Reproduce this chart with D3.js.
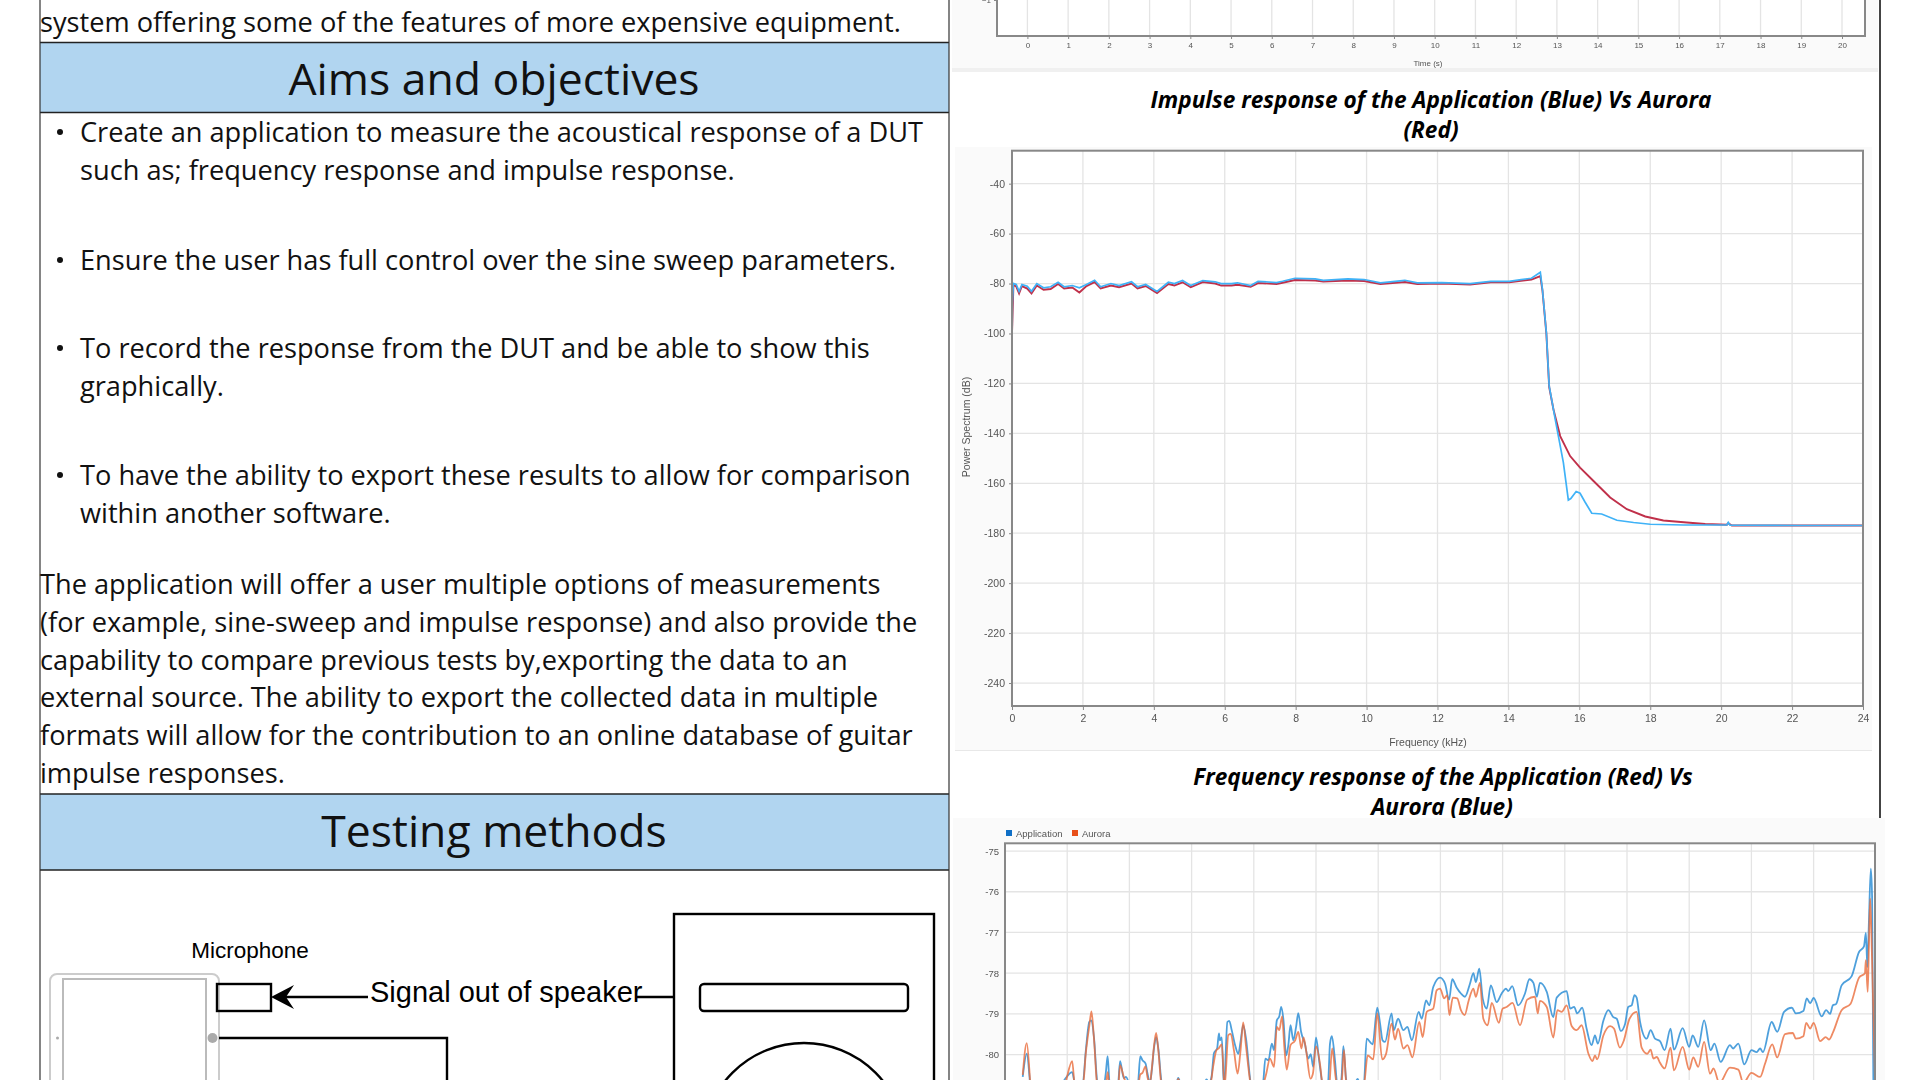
<!DOCTYPE html>
<html>
<head>
<meta charset="utf-8">
<script src="https://cdn.jsdelivr.net/npm/d3@7"></script>
<style>
  html, body { margin: 0; background: #fff; }
  svg { display: block; }
  .body-text { font-family: "Open Sans"; font-size: 27.2px; fill: #111; }
  .band-text { font-family: "Open Sans"; font-size: 44.5px; fill: #111; text-anchor: middle; }
  .chart-title { font-family: "Open Sans"; font-size: 22.6px; font-weight: 700; font-style: italic; fill: #000; text-anchor: middle; }
  .diagram-text { font-family: "Liberation Sans"; fill: #000; }
  .axis text, .axis-label { font-family: "Liberation Sans"; fill: #555; }
  .axis .domain, .axis line { stroke: #888; }
  .panel { filter: blur(0.45px); }
</style>
</head>
<body>
<div id="chart"></div>
<script>
// Text
const introLine = "system offering some of the features of more expensive equipment.";
const aimsBullets = [
  ["Create an application to measure the acoustical response of a DUT", 142],
  ["such as; frequency response and impulse response.", 180],
  ["Ensure the user has full control over the sine sweep parameters.", 270],
  ["To record the response from the DUT and be able to show this", 358],
  ["graphically.", 396],
  ["To have the ability to export these results to allow for comparison", 485],
  ["within another software.", 523]
];
const bulletRows = [132, 260, 348, 475];
const aimsParagraph = [
  "The application will offer a user multiple options of measurements",
  "(for example, sine-sweep and impulse response) and also provide the",
  "capability to compare previous tests by,exporting the data to an",
  "external source. The ability to export the collected data in multiple",
  "formats will allow for the contribution to an online database of guitar",
  "impulse responses."
];

// Top chart, only its bottom edge is in frame
const timeTicks = d3.range(0, 21);

// Impulse response chart: [kHz, dB]
const impulseFreqTicks = d3.range(0, 25, 2);
const impulseDbTicks = [-40, -60, -80, -100, -120, -140, -160, -180, -200, -220, -240];
const appImpulse = [
  [0, -107.7], [.01, -87.7], [.04, -80], [.12, -80.4], [.2, -83.1], [.28, -80.4], [.43, -81.1], [.55, -83.1],
  [.7, -80], [.89, -81.7], [1.09, -81.3], [1.3, -79.5], [1.47, -81.3], [1.7, -80.8], [1.9, -81.7], [2.1, -80.4],
  [2.33, -78.7], [2.5, -81.3], [2.79, -80], [3.02, -80.8], [3.37, -79.3], [3.54, -81.3], [3.77, -80.4], [4.09, -83.2],
  [4.41, -79.5], [4.58, -80], [4.81, -78.8], [5.04, -80.8], [5.38, -78.8], [5.73, -79.3], [5.9, -80], [6.19, -80],
  [6.36, -79.7], [6.73, -80.8], [6.94, -79.1], [7.46, -79.6], [7.63, -79.1], [7.98, -77.9], [8.55, -78.1], [8.78, -78.7],
  [9.47, -78.1], [9.93, -78.4], [10.39, -79.7], [11.08, -78.7], [11.43, -79.7], [12.12, -79.6], [12.92, -80], [13.5, -79.1],
  [14.02, -79.1], [14.65, -77.9], [14.9, -75.5], [14.96, -82.4], [15.07, -99.7], [15.15, -121], [15.32, -134.4], [15.55, -151.7],
  [15.69, -166.7], [15.76, -166.1], [15.91, -163.3], [16.02, -164], [16.16, -167.5], [16.35, -172], [16.63, -172.3], [17.06, -174.8],
  [17.53, -175.7], [18, -176.4], [18.94, -176.7], [20.16, -176.7], [20.2, -175.7], [20.25, -176.8], [22.23, -176.9], [24, -176.9]
];
const auroraImpulse = [
  [0, -100], [.04, -80.6], [.12, -81.2], [.2, -84], [.28, -81], [.43, -82], [.55, -84], [.7, -80.8],
  [.89, -82.5], [1.09, -82.2], [1.3, -80.2], [1.47, -82], [1.7, -81.6], [1.9, -83.6], [2.1, -81], [2.33, -79.4],
  [2.5, -82], [2.79, -80.8], [3.02, -81.5], [3.37, -80], [3.54, -82], [3.77, -81], [4.09, -83.8], [4.41, -80.2],
  [4.58, -80.8], [4.81, -79.5], [5.04, -81.5], [5.38, -79.4], [5.73, -80], [5.9, -80.8], [6.19, -80.8], [6.36, -80.5],
  [6.73, -81.3], [6.94, -79.8], [7.46, -80.2], [7.63, -79.7], [7.98, -78.6], [8.55, -78.8], [8.78, -79.2], [9.47, -78.8],
  [9.93, -79], [10.39, -80.2], [11.08, -79.4], [11.43, -80.2], [12.12, -80], [12.92, -80.4], [13.5, -79.5], [14.02, -79.5],
  [14.65, -78.4], [14.9, -77], [14.96, -82.8], [15.07, -100], [15.15, -121.5], [15.27, -130.4], [15.46, -141.1], [15.74, -149.1],
  [16.02, -153.7], [16.4, -159.1], [16.87, -165.7], [17.34, -170.4], [17.86, -173.3], [18.37, -174.9], [19.03, -175.7], [19.55, -176.3],
  [20.16, -176.6], [20.2, -176], [20.3, -176.9], [22.23, -176.9], [24, -176.9]
];

// Frequency response chart: [position in grid steps, dB]. Its x labels are below the frame.
const respDbTicks = [-75, -76, -77, -78, -79, -80];
const respGridSteps = d3.range(1, 14);
const respLegend = ["Application", "Aurora"];
const appResponse = [
  [.285, -80.55], [.35, -79.98], [.43, -81], [.72, -81.2], [.965, -80.6], [1.08, -80.43], [1.125, -80.7], [1.25, -80.7],
  [1.3, -79.89], [1.355, -79.2], [1.39, -79.16], [1.43, -79.57], [1.485, -80.7], [1.56, -81], [1.62, -80.46], [1.65, -80.04],
  [1.68, -80.7], [1.74, -81], [1.82, -80.7], [1.85, -80.16], [1.91, -80.58], [1.945, -80.55], [2.01, -80.8], [2.09, -81],
  [2.14, -80.7], [2.175, -80.04], [2.21, -80.14], [2.26, -80.22], [2.29, -80.46], [2.33, -80.7], [2.36, -80.39], [2.395, -79.85],
  [2.43, -79.57], [2.465, -79.85], [2.52, -80.7], [2.65, -81], [2.75, -80.75], [2.785, -80.57], [2.83, -80.75], [2.975, -81],
  [3.18, -80.8], [3.24, -80.61], [3.28, -80.7], [3.32, -80.55], [3.36, -79.96], [3.41, -79.85], [3.44, -79.48], [3.455, -79.65],
  [3.485, -79.58], [3.52, -80.8], [3.575, -79.2], [3.605, -79.17], [3.645, -79.4], [3.7, -79.77], [3.75, -79.98], [3.79, -79.65],
  [3.83, -79.28], [3.875, -79.61], [3.95, -80.7], [4.05, -81.1], [4.15, -80.7], [4.185, -80.1], [4.235, -80.14], [4.29, -79.73],
  [4.325, -79.89], [4.37, -79.16], [4.41, -79.06], [4.44, -78.83], [4.475, -79.12], [4.52, -80.02], [4.555, -79.77], [4.59, -79.28],
  [4.635, -79.65], [4.68, -79.32], [4.715, -78.98], [4.76, -79.44], [4.82, -79.73], [4.875, -80.1], [4.915, -79.99], [4.955, -80.3],
  [5, -79.58], [5.05, -80.14], [5.1, -80.7], [5.145, -81], [5.195, -80.7], [5.225, -79.73], [5.255, -79.55], [5.305, -80.14],
  [5.34, -80.7], [5.385, -80.75], [5.41, -80.58], [5.44, -79.79], [5.48, -80.55], [5.545, -81], [5.63, -80.7], [5.67, -80.6],
  [5.71, -80.75], [5.77, -80.7], [5.815, -79.61], [5.91, -79.75], [5.985, -78.85], [6.03, -79.24], [6.07, -79.65], [6.11, -79.69],
  [6.215, -78.99], [6.25, -79.4], [6.32, -79.12], [6.405, -79.4], [6.47, -79.32], [6.54, -79.65], [6.65, -78.95], [6.7, -79.12],
  [6.77, -78.67], [6.82, -78.79], [6.885, -78.34], [6.995, -78.11], [7.075, -78.26], [7.14, -78.65], [7.19, -78.15], [7.26, -78.35],
  [7.33, -78.5], [7.395, -78.58], [7.475, -78.26], [7.53, -78], [7.57, -78.22], [7.625, -77.89], [7.68, -78.62], [7.745, -78.87],
  [7.81, -78.3], [7.905, -78.71], [7.985, -78.5], [8.055, -78.38], [8.09, -78.44], [8.155, -78.32], [8.25, -78.79], [8.36, -78.5],
  [8.43, -78.15], [8.495, -78.24], [8.55, -78.58], [8.6, -78.24], [8.71, -78.46], [8.815, -79.08], [8.87, -78.6], [9.03, -78.44],
  [9.085, -78.87], [9.15, -78.83], [9.2, -78.99], [9.28, -78.85], [9.35, -79.36], [9.43, -79.77], [9.485, -79.53], [9.53, -79.73],
  [9.62, -79.17], [9.7, -78.91], [9.78, -79.08], [9.835, -79.12], [9.9, -79.42], [9.97, -79.24], [10.02, -78.83], [10.075, -78.79],
  [10.12, -78.54], [10.155, -78.6], [10.21, -79.2], [10.315, -79.61], [10.38, -79.4], [10.45, -79.61], [10.53, -79.67], [10.605, -79.89],
  [10.7, -79.36], [10.755, -79.88], [10.895, -79.35], [11, -79.81], [11.055, -79.53], [11.145, -79.81], [11.24, -79.16], [11.345, -79.89],
  [11.405, -79.73], [11.505, -80.18], [11.655, -79.77], [11.705, -79.85], [11.79, -79.73], [11.885, -80.24], [12, -79.89], [12.085, -79.94],
  [12.14, -79.85], [12.185, -79.94], [12.325, -79.2], [12.415, -79.44], [12.525, -78.95], [12.65, -78.85], [12.715, -78.99], [12.835, -78.93],
  [12.89, -78.62], [12.945, -78.74], [13, -78.61], [13.13, -79.06], [13.2, -78.91], [13.265, -79], [13.31, -78.79], [13.36, -78.76],
  [13.45, -78.3], [13.61, -78.08], [13.73, -77.48], [13.81, -77.34], [13.84, -77.01], [13.865, -77.85], [13.89, -76.7], [13.92, -75.43],
  [13.94, -76.1], [13.96, -80.55], [13.99, -82]
];
const auroraResponse = [
  [.285, -80.5], [.35, -79.72], [.43, -81], [.72, -81.3], [.97, -80.7], [1.08, -80.16], [1.125, -80.8], [1.25, -80.8],
  [1.3, -79.95], [1.355, -79.3], [1.39, -78.94], [1.43, -79.6], [1.485, -80.8], [1.56, -81], [1.62, -80.8], [1.65, -80.43],
  [1.68, -80.8], [1.74, -81], [1.82, -80.8], [1.85, -80.26], [1.91, -80.55], [1.945, -80.7], [2.01, -80.9], [2.09, -81],
  [2.14, -80.8], [2.175, -80.49], [2.21, -80.45], [2.26, -80.29], [2.29, -80.55], [2.33, -80.7], [2.36, -80.35], [2.395, -79.8],
  [2.43, -79.47], [2.465, -79.9], [2.52, -80.8], [2.65, -81.1], [2.75, -80.8], [2.785, -80.6], [2.83, -80.8], [2.975, -81.1],
  [3.18, -80.9], [3.3, -80.75], [3.35, -80.26], [3.4, -79.89], [3.44, -79.84], [3.455, -79.8], [3.485, -79.75], [3.53, -80.8],
  [3.59, -79.52], [3.63, -79.49], [3.68, -79.89], [3.74, -80.47], [3.785, -79.93], [3.83, -79.21], [3.875, -79.8], [3.945, -80.7],
  [4.05, -81.2], [4.16, -80.7], [4.2, -80.47], [4.26, -80.1], [4.325, -80.3], [4.37, -79.32], [4.41, -79.4], [4.455, -79.06],
  [4.49, -79.8], [4.53, -80.37], [4.59, -79.77], [4.665, -79.65], [4.715, -79.44], [4.765, -79.85], [4.8, -79.58], [4.845, -79.94],
  [4.91, -80.59], [4.95, -80.47], [5, -79.8], [5.07, -80.3], [5.1, -80.7], [5.2, -81], [5.26, -79.85], [5.315, -80.55],
  [5.34, -80.8], [5.41, -80.7], [5.45, -79.89], [5.48, -80.6], [5.545, -81.1], [5.63, -80.8], [5.67, -80.65], [5.71, -80.8],
  [5.77, -80.75], [5.83, -80.02], [5.92, -80.12], [5.985, -78.99], [6.065, -80.12], [6.125, -79.99], [6.215, -79.24], [6.27, -79.63],
  [6.32, -79.36], [6.405, -79.85], [6.47, -79.77], [6.55, -80.07], [6.66, -79.2], [6.715, -79.57], [6.78, -78.95], [6.885, -78.87],
  [6.94, -78.42], [6.995, -78.38], [7.06, -78.62], [7.11, -78.54], [7.145, -79.03], [7.2, -78.6], [7.27, -78.62], [7.33, -78.91],
  [7.39, -79.03], [7.455, -78.67], [7.53, -78.38], [7.57, -78.58], [7.635, -78.24], [7.69, -79.12], [7.76, -79.28], [7.825, -78.73],
  [7.94, -79.22], [8, -78.87], [8.065, -78.83], [8.16, -78.73], [8.28, -79.28], [8.395, -78.65], [8.52, -78.58], [8.565, -78.99],
  [8.6, -78.68], [8.71, -78.83], [8.815, -79.58], [8.88, -78.91], [8.95, -78.95], [9.03, -78.79], [9.11, -79.3], [9.19, -79.4],
  [9.27, -79.28], [9.38, -79.98], [9.445, -80.16], [9.485, -80.02], [9.52, -80.12], [9.62, -79.53], [9.73, -79.3], [9.79, -79.36],
  [9.885, -79.83], [9.95, -79.65], [10.04, -79.12], [10.155, -78.95], [10.235, -79.83], [10.325, -79.98], [10.38, -79.88], [10.425, -80.1],
  [10.48, -80.06], [10.53, -80.2], [10.605, -80.34], [10.7, -79.83], [10.755, -80.39], [10.895, -79.81], [11, -80.37], [11.065, -80.07],
  [11.145, -80.3], [11.24, -79.69], [11.335, -80.47], [11.39, -80.34], [11.485, -80.7], [11.655, -80.32], [11.79, -80.37], [11.87, -80.7],
  [12, -80.45], [12.14, -80.55], [12.22, -80.22], [12.335, -79.75], [12.415, -80.07], [12.54, -79.5], [12.665, -79.47], [12.715, -79.61],
  [12.835, -79.55], [12.88, -79.22], [12.945, -79.36], [13, -79.22], [13.105, -79.67], [13.195, -79.57], [13.25, -79.63], [13.315, -79.44],
  [13.45, -78.91], [13.595, -78.75], [13.73, -78.11], [13.825, -78], [13.84, -77.68], [13.87, -78.46], [13.89, -77.25], [13.91, -76.17],
  [13.94, -77.68], [13.985, -80.55]
];

const svg = d3.select("#chart").append("svg").attr("width", 1920).attr("height", 1080);

// Left column
const col = { left: 40, right: 949 };

svg.append("rect").attr("x", col.left).attr("y", 43).attr("width", col.right - col.left).attr("height", 70)
  .attr("fill", "#b1d5f0");
svg.append("rect").attr("x", col.left).attr("y", 794).attr("width", col.right - col.left).attr("height", 76)
  .attr("fill", "#b1d5f0");

[42.5, 112.5, 794, 870].forEach((y) => {
  svg.append("line").attr("x1", col.left).attr("x2", col.right).attr("y1", y).attr("y2", y)
    .attr("stroke", "#222").attr("stroke-width", 1.4);
});
[col.left, col.right].forEach((x) => {
  svg.append("line").attr("x1", x).attr("x2", x).attr("y1", 0).attr("y2", 1080)
    .attr("stroke", "#333").attr("stroke-width", 1.2);
});

svg.append("text").attr("class", "body-text").attr("x", 40).attr("y", 32).text(introLine);
svg.append("text").attr("class", "band-text").attr("x", 494).attr("y", 95).text("Aims and objectives");
svg.append("text").attr("class", "band-text").attr("x", 494).attr("y", 847).text("Testing methods");

svg.selectAll(".bullet-line").data(aimsBullets).join("text")
  .attr("class", "body-text bullet-line")
  .attr("x", 80)
  .attr("y", (d) => d[1])
  .text((d) => d[0]);

svg.selectAll(".bullet-dot").data(bulletRows).join("circle")
  .attr("class", "bullet-dot")
  .attr("cx", 60)
  .attr("cy", (d) => d)
  .attr("r", 3)
  .attr("fill", "#111");

svg.selectAll(".para-line").data(aimsParagraph).join("text")
  .attr("class", "body-text para-line")
  .attr("x", 40)
  .attr("y", (d, i) => 594 + i * 37.8)
  .text((d) => d);

// Test set-up diagram
const diagram = svg.append("g").attr("fill", "none").attr("stroke", "#000").attr("stroke-width", 2.4);
diagram.append("rect").attr("x", 50).attr("y", 974).attr("width", 169).attr("height", 140).attr("rx", 7)
  .attr("stroke", "#ccc").attr("stroke-width", 2);
diagram.append("rect").attr("x", 63).attr("y", 979).attr("width", 143).attr("height", 140)
  .attr("stroke", "#bbb").attr("stroke-width", 2);
diagram.append("circle").attr("cx", 57.5).attr("cy", 1038).attr("r", 1.5).attr("fill", "#aaa").attr("stroke", "none");
diagram.append("circle").attr("cx", 212.5).attr("cy", 1038).attr("r", 5).attr("fill", "#aaa").attr("stroke", "none");
diagram.append("rect").attr("x", 217).attr("y", 984).attr("width", 54).attr("height", 27);
diagram.append("line").attr("x1", 283).attr("x2", 368).attr("y1", 997).attr("y2", 997);
diagram.append("path").attr("d", "M271,997 L294,985 L286,997 L294,1009 Z").attr("fill", "#000").attr("stroke", "none");
diagram.append("line").attr("x1", 637).attr("x2", 674).attr("y1", 997).attr("y2", 997);
diagram.append("path").attr("d", "M219,1038 H447 V1085");
diagram.append("rect").attr("x", 674).attr("y", 914).attr("width", 260).attr("height", 200);
diagram.append("rect").attr("x", 700).attr("y", 984).attr("width", 208).attr("height", 27).attr("rx", 4);
diagram.append("circle").attr("cx", 804).attr("cy", 1144).attr("r", 101);

svg.append("text").attr("class", "diagram-text").attr("x", 250).attr("y", 958)
  .attr("text-anchor", "middle").attr("font-size", 22.5).text("Microphone");
svg.append("text").attr("class", "diagram-text").attr("x", 370).attr("y", 1002)
  .attr("font-size", 29).text("Signal out of speaker");

// Right column panels
function panel(x, y, w, h) {
  svg.append("rect").attr("x", x).attr("y", y).attr("width", w).attr("height", h).attr("fill", "#fafafa");
}

svg.append("line").attr("x1", 1880).attr("x2", 1880).attr("y1", 0).attr("y2", 818)
  .attr("stroke", "#444").attr("stroke-width", 2);

svg.append("text").attr("class", "chart-title").attr("x", 1431).attr("y", 108)
  .text("Impulse response of the Application (Blue) Vs Aurora");
svg.append("text").attr("class", "chart-title").attr("x", 1431).attr("y", 138).text("(Red)");
svg.append("text").attr("class", "chart-title").attr("x", 1443).attr("y", 785)
  .text("Frequency response of the Application (Red) Vs");
svg.append("text").attr("class", "chart-title").attr("x", 1442).attr("y", 815).text("Aurora (Blue)");

// Draws frame and grid for one plot, returns the group to put its lines in
function plotArea(name, box, x, y, xTicks, yTicks) {
  const g = svg.append("g").attr("class", "panel");
  g.append("clipPath").attr("id", name + "-clip").append("rect")
    .attr("x", box.left).attr("y", box.top).attr("width", box.right - box.left).attr("height", box.bottom - box.top);
  g.append("rect").attr("x", box.left).attr("y", box.top)
    .attr("width", box.right - box.left).attr("height", box.bottom - box.top).attr("fill", "#fff");
  g.selectAll(".grid-x").data(xTicks).join("line")
    .attr("x1", (d) => x(d)).attr("x2", (d) => x(d))
    .attr("y1", box.top).attr("y2", box.bottom)
    .attr("stroke", "#e4e4e4").attr("stroke-width", 1.3);
  g.selectAll(".grid-y").data(yTicks).join("line")
    .attr("x1", box.left).attr("x2", box.right)
    .attr("y1", (d) => y(d)).attr("y2", (d) => y(d))
    .attr("stroke", "#e4e4e4").attr("stroke-width", 1.3);
  return g;
}

function frame(g, box) {
  g.append("rect").attr("x", box.left).attr("y", box.top)
    .attr("width", box.right - box.left).attr("height", box.bottom - box.top)
    .attr("fill", "none").attr("stroke", "#888").attr("stroke-width", 2);
}

// Top chart
panel(952, 0, 926, 68);
svg.append("rect").attr("x", 952).attr("y", 68).attr("width", 926).attr("height", 4).attr("fill", "#f0f0f0");
const topBox = { left: 997, right: 1865, top: -5, bottom: 36 };
const topX = d3.scaleLinear().domain([0, 20]).range([1027.4, 1842]);
const topY = d3.scaleLinear().domain([-1.36, -1]).range([36, 0]);
const topG = plotArea("top", topBox, topX, topY, timeTicks, []);
frame(topG, topBox);
topG.append("g").attr("class", "axis").attr("transform", "translate(0,36)")
  .call(d3.axisBottom(topX).tickValues(timeTicks).tickFormat(d3.format("d")).tickSize(3).tickSizeOuter(0))
  .call((a) => a.select(".domain").remove())
  .call((a) => a.selectAll("text").attr("font-size", 8));
topG.append("g").attr("class", "axis").attr("transform", "translate(997,0)")
  .call(d3.axisLeft(topY).tickValues([-1]).tickFormat(d3.format("d")).tickSize(3))
  .call((a) => a.select(".domain").remove())
  .call((a) => a.selectAll("text").attr("font-size", 8));
topG.append("text").attr("class", "axis-label").attr("x", 1428).attr("y", 66)
  .attr("text-anchor", "middle").attr("font-size", 8).text("Time (s)");

// Impulse response chart
panel(955, 147, 917, 603);
svg.append("rect").attr("x", 955).attr("y", 750).attr("width", 917).attr("height", 1).attr("fill", "#e8e8e8");
const impBox = { left: 1012, right: 1863, top: 150.7, bottom: 706 };
const impX = d3.scaleLinear().domain([0, 24]).range([impBox.left, impBox.right]);
const impY = d3.scaleLinear().domain([-249.2, -26.8]).range([impBox.bottom, impBox.top]);
const impG = plotArea("imp", impBox, impX, impY, impulseFreqTicks, impulseDbTicks);
const impLine = d3.line().x((d) => impX(d[0])).y((d) => impY(d[1]));

impG.append("path").datum(auroraImpulse).attr("d", impLine)
  .attr("clip-path", "url(#imp-clip)").attr("fill", "none").attr("stroke", "#c0304a").attr("stroke-width", 1.9);
impG.append("path").datum(appImpulse).attr("d", impLine)
  .attr("clip-path", "url(#imp-clip)").attr("fill", "none").attr("stroke", "#3fb2f7").attr("stroke-width", 1.7);
frame(impG, impBox);

impG.append("g").attr("class", "axis").attr("transform", `translate(0,${impBox.bottom})`)
  .call(d3.axisBottom(impX).tickValues(impulseFreqTicks).tickFormat(d3.format("d")).tickSize(4).tickPadding(5))
  .call((a) => a.select(".domain").remove())
  .call((a) => a.selectAll("text").attr("font-size", 10.5));
impG.append("g").attr("class", "axis").attr("transform", `translate(${impBox.left},0)`)
  .call(d3.axisLeft(impY).tickValues(impulseDbTicks).tickFormat((d) => String(d)).tickSize(3).tickPadding(4))
  .call((a) => a.select(".domain").remove())
  .call((a) => a.selectAll("text").attr("font-size", 10.5));
impG.append("text").attr("class", "axis-label").attr("x", 1428).attr("y", 746)
  .attr("text-anchor", "middle").attr("font-size", 10.5).text("Frequency (kHz)");
impG.append("text").attr("class", "axis-label").attr("transform", "translate(970,427) rotate(-90)")
  .attr("text-anchor", "middle").attr("font-size", 10.5).text("Power Spectrum (dB)");

// Frequency response chart
panel(953, 818, 932, 262);
const respBox = { left: 1005, right: 1875, top: 843.3, bottom: 1136 };
const respX = d3.scaleLinear().domain([0, 13.987]).range([respBox.left, respBox.right]);
const respY = d3.scaleLinear().domain([-82, -74.81]).range([respBox.bottom, respBox.top]);
const respG = plotArea("resp", respBox, respX, respY, respGridSteps, respDbTicks);
const respLine = d3.line().x((d) => respX(d[0])).y((d) => respY(d[1])).curve(d3.curveMonotoneX);

respG.append("path").datum(appResponse).attr("d", respLine)
  .attr("clip-path", "url(#resp-clip)").attr("fill", "none").attr("stroke", "#2f8fd6")
  .attr("stroke-width", 1.8).attr("stroke-opacity", 0.85);
respG.append("path").datum(auroraResponse).attr("d", respLine)
  .attr("clip-path", "url(#resp-clip)").attr("fill", "none").attr("stroke", "#ea6d3c")
  .attr("stroke-width", 1.8).attr("stroke-opacity", 0.8);
frame(respG, respBox);

respG.append("g").attr("class", "axis").attr("transform", `translate(${respBox.left},0)`)
  .call(d3.axisLeft(respY).tickValues(respDbTicks).tickFormat((d) => String(d)).tickSize(0).tickPadding(6))
  .call((a) => a.select(".domain").remove())
  .call((a) => a.selectAll("text").attr("font-size", 9.5));

const legendColor = d3.scaleOrdinal().domain(respLegend).range(["#0f6fc6", "#e8501a"]);
const legendX = d3.scalePoint().domain(respLegend).range([1006, 1072]);
respLegend.forEach((name) => {
  respG.append("rect").attr("x", legendX(name)).attr("y", 830).attr("width", 6).attr("height", 6)
    .attr("fill", legendColor(name));
  respG.append("text").attr("class", "axis-label").attr("x", legendX(name) + 10).attr("y", 836.5)
    .attr("font-size", 9.5).text(name);
});
</script>
</body>
</html>
